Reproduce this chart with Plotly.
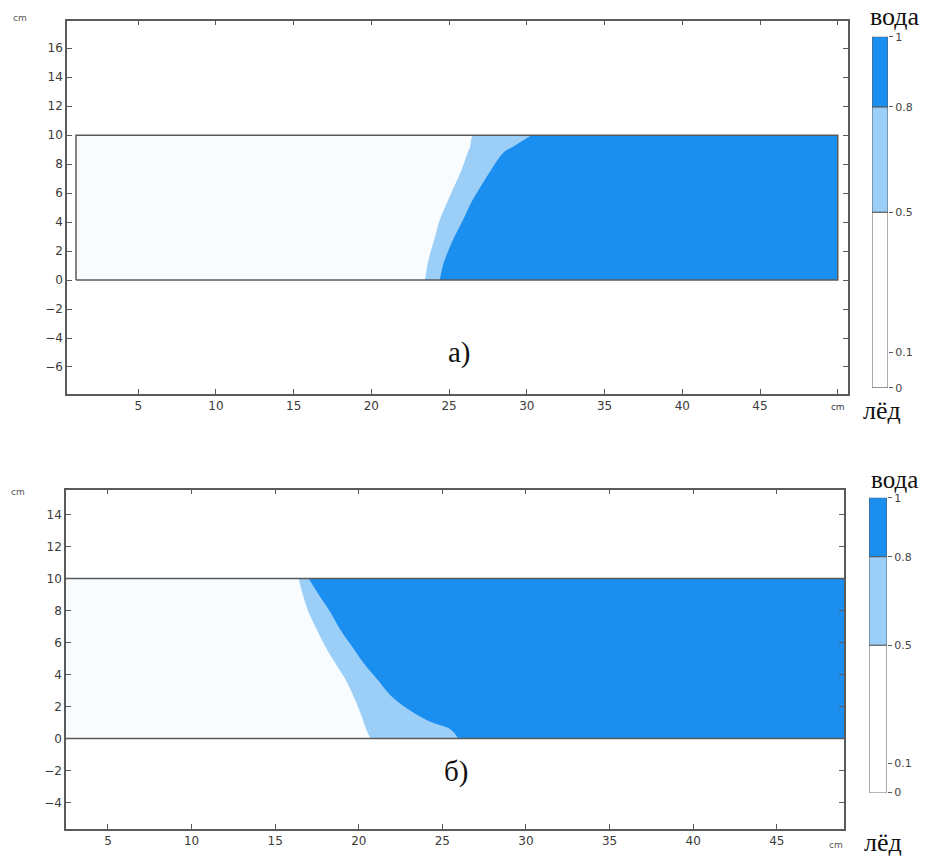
import plotly.graph_objects as go

# ---------------- data ----------------
# panel a) phase-front boundaries (x in cm at given heights y in cm)
y_levels_a = [0, 1.0, 1.9, 3.0, 4.16, 5.3, 6.4, 7.6, 8.8, 9.2, 9.6, 10]
light_a = [23.45, 23.6, 23.8, 24.1, 24.4, 24.85, 25.3, 25.8, 26.2, 26.35, 26.4, 26.5]   # 0.5 contour
dark_a = [24.4, 24.6, 24.9, 25.35, 25.9, 26.4, 27.0, 27.7, 28.5, 29.1, 29.7, 30.3]      # 0.8 contour
rect_a_x = [1, 50]
rect_a_y = [0, 10]

# panel б) phase-front boundaries
y_levels_b = [0, 0.56, 1.0, 1.6, 2.6, 3.7, 4.7, 5.75, 6.8, 7.9, 9.0, 10]
light_b = [20.7, 20.45, 20.3, 20.1, 19.7, 19.2, 18.6, 18.0, 17.5, 17.0, 16.65, 16.4]
dark_b = [25.95, 25.5, 24.4, 23.3, 22.0, 21.1, 20.3, 19.6, 18.9, 18.3, 17.6, 17.0]
rect_b_x = [0, 50]
rect_b_y = [0, 10]

x_ticks = [5, 10, 15, 20, 25, 30, 35, 40, 45]
y_ticks_a = [-6, -4, -2, 0, 2, 4, 6, 8, 10, 12, 14, 16]
y_ticks_b = [-4, -2, 0, 2, 4, 6, 8, 10, 12, 14]

# colour legend levels (fraction of water)
cb_levels = [0, 0.5, 0.8, 1]
cb_ticks = [0, 0.1, 0.5, 0.8, 1]
cb_ticktext = ["0", "0.1", "0.5", "0.8", "1"]

ICE = "#f9fcff"
LIGHT = "#9bcff8"
DARK = "#1b8ff0"
cb_colors = ["#ffffff", LIGHT, DARK]

FRAME = "#5a5a5a"
TICKFONT = dict(family="DejaVu Sans", size=12, color="#3a3a3a")
SERIF = "Liberation Serif"

fig = go.Figure()


def add_panel(xa, ya, rx, ry, ylev, light, dark):
    x0, x1 = rx
    y0, y1 = ry
    # ice background
    fig.add_trace(go.Scatter(x=[x0, x1, x1, x0, x0], y=[y0, y0, y1, y1, y0],
                             fill="toself", fillcolor=ICE, mode="lines",
                             line=dict(width=0), xaxis=xa, yaxis=ya,
                             hoverinfo="skip", showlegend=False))
    for bnd, col in ((light, LIGHT), (dark, DARK)):
        # right edge of the domain (fill partner)
        fig.add_trace(go.Scatter(x=[x1, x1], y=[y0, y1], mode="lines",
                                 line=dict(width=0), xaxis=xa, yaxis=ya,
                                 hoverinfo="skip", showlegend=False))
        # front contour, filled towards the right edge
        fig.add_trace(go.Scatter(x=bnd, y=ylev, mode="lines",
                                 line=dict(width=0, shape="spline", smoothing=1.1),
                                 fill="tonextx", fillcolor=col,
                                 xaxis=xa, yaxis=ya, hoverinfo="skip",
                                 showlegend=False))
    # domain outline
    fig.add_trace(go.Scatter(x=[x0, x1, x1, x0, x0], y=[y0, y0, y1, y1, y0],
                             mode="lines", line=dict(color=FRAME, width=1.5),
                             xaxis=xa, yaxis=ya, hoverinfo="skip",
                             showlegend=False))


add_panel("x", "y", rect_a_x, rect_a_y, y_levels_a, light_a, dark_a)
add_panel("x2", "y2", rect_b_x, rect_b_y, y_levels_b, light_b, dark_b)

# colour legends as stacked bars
for xa, ya in (("x3", "y3"), ("x4", "y4")):
    for i in range(len(cb_levels) - 1):
        fig.add_trace(go.Bar(x=[0], y=[cb_levels[i + 1] - cb_levels[i]],
                             base=[cb_levels[i]], width=[1],
                             marker=dict(color=cb_colors[i],
                                         line=dict(color=FRAME, width=1)),
                             xaxis=xa, yaxis=ya, hoverinfo="skip",
                             showlegend=False))

W, H = 930, 861


def px2x(p):
    return p / W


def px2y(p):
    # compensate for the slight vertical rescale seen in the rendered page
    q = (p - 6.3) / 0.985
    return 1 - q / H


axis_common = dict(showline=True, linecolor=FRAME, linewidth=1.5,
                   mirror="ticks", ticks="inside", ticklen=5,
                   tickcolor=FRAME, showgrid=False, zeroline=False,
                   tickfont=TICKFONT)
cb_axis = dict(range=[0, 1], side="right", tickvals=cb_ticks,
               ticktext=cb_ticktext, ticks="outside", ticklen=4,
               tickcolor=FRAME, showgrid=False, zeroline=False,
               showline=False,
               tickfont=dict(family="DejaVu Sans", size=11, color="#444"))

fig.update_layout(
    width=W, height=H, margin=dict(l=0, r=0, t=0, b=0),
    paper_bgcolor="white", plot_bgcolor="white", barmode="overlay",
    xaxis=dict(domain=[px2x(67), px2x(848)], range=[0.42, 50.66],
               tickvals=x_ticks + [50],
               ticktext=[str(v) for v in x_ticks] +
               ['<span style="font-size:9px">cm</span>'],
               anchor="y", **axis_common),
    yaxis=dict(domain=[px2y(394), px2y(21)], range=[-7.84, 17.9],
               tickvals=y_ticks_a, anchor="x", **axis_common),
    xaxis2=dict(domain=[px2x(66), px2x(844)], range=[2.49, 49.02],
                tickvals=x_ticks, anchor="y2", **axis_common),
    yaxis2=dict(domain=[px2y(829), px2y(490)], range=[-5.63, 15.56],
                tickvals=y_ticks_b, anchor="x2", **axis_common),
    xaxis3=dict(domain=[px2x(872), px2x(888)], range=[-0.5, 0.5],
                visible=False, anchor="y3"),
    yaxis3=dict(domain=[px2y(388), px2y(37)], anchor="x3", **cb_axis),
    xaxis4=dict(domain=[px2x(869), px2x(887)], range=[-0.5, 0.5],
                visible=False, anchor="y4"),
    yaxis4=dict(domain=[px2y(793), px2y(498)], anchor="x4", **cb_axis),
)

annotations = [
    # unit labels
    dict(x=px2x(20), y=px2y(18), text="cm", font=dict(family="DejaVu Sans", size=9, color="#555")),
    dict(x=px2x(18), y=px2y(492), text="cm", font=dict(family="DejaVu Sans", size=9, color="#555")),
    dict(x=px2x(836), y=px2y(845), text="cm", font=dict(family="DejaVu Sans", size=9, color="#555")),
    # panel labels
    dict(x=px2x(459), y=px2y(353), text="а)", font=dict(family=SERIF, size=29, color="#111")),
    dict(x=px2x(456), y=px2y(772), text="б)", font=dict(family=SERIF, size=29, color="#111")),
    # legend titles
    dict(x=px2x(895), y=px2y(17), text="вода", font=dict(family=SERIF, size=26, color="#111")),
    dict(x=px2x(882), y=px2y(411), text="лёд", font=dict(family=SERIF, size=26, color="#111")),
    dict(x=px2x(894), y=px2y(480), text="вода", font=dict(family=SERIF, size=25, color="#111")),
    dict(x=px2x(883), y=px2y(843), text="лёд", font=dict(family=SERIF, size=26, color="#111")),
]
for a in annotations:
    a.update(xref="paper", yref="paper", showarrow=False,
             xanchor="center", yanchor="middle")
fig.update_layout(annotations=annotations)

fig.write_html(
    "out.html",
    config={"displayModeBar": False},
    post_script="document.body.style.margin='0';document.body.style.overflow='hidden';",
)
